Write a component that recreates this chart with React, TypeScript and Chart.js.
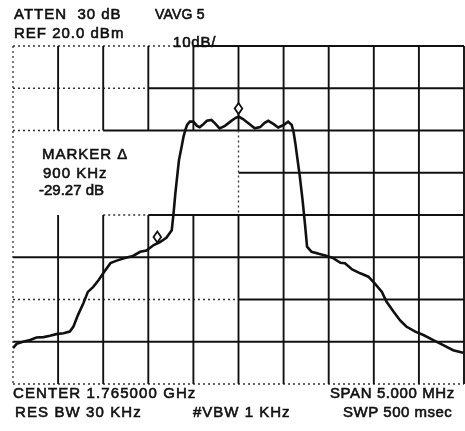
import { useEffect, useRef } from 'react';
import { Chart, registerables } from 'chart.js';

Chart.register(...registerables);

// Frequency offset from centre (MHz) and trace level (dBm)
const freqOffsetMHz = [
  -2.50, -2.46, -2.39, -2.31, -2.24, -2.16, -2.09, -2.02, -1.94, -1.87,
  -1.83, -1.78, -1.72, -1.67, -1.61, -1.55, -1.50, -1.42, -1.35, -1.26,
  -1.17, -1.09, -1.02, -0.94, -0.87, -0.80, -0.74, -0.72, -0.70, -0.68,
  -0.66, -0.63, -0.61, -0.59, -0.57, -0.54, -0.50, -0.46, -0.43, -0.39,
  -0.35, -0.30, -0.26, -0.21, -0.15, -0.09, -0.04, 0.00, 0.05, 0.11,
  0.18, 0.24, 0.29, 0.33, 0.39, 0.44, 0.50, 0.55, 0.59, 0.61,
  0.63, 0.65, 0.68, 0.71, 0.74, 0.76, 0.81, 0.89, 0.98, 1.05,
  1.13, 1.18, 1.26, 1.35, 1.44, 1.51, 1.59, 1.64, 1.72, 1.79,
  1.86, 1.96, 2.05, 2.16, 2.27, 2.38, 2.49,
];
const traceDbm = [
  -51.5, -50.5, -50.0, -49.6, -49.0, -48.9, -48.6, -48.2, -48.0, -47.6,
  -46.4, -43.7, -40.9, -38.2, -37.0, -35.4, -33.8, -31.4, -30.8, -30.2,
  -29.7, -28.7, -28.4, -27.1, -26.4, -25.4, -23.6, -19.6, -14.9, -10.9,
  -7.0, -3.8, -1.5, 0.1, 1.3, 2.1, 2.1, 1.1, 0.8, 1.5,
  2.3, 2.5, 1.7, 0.5, 1.1, 2.1, 2.9, 3.3, 2.7, 1.7,
  0.5, 0.8, 1.8, 2.3, 1.5, 0.7, 1.3, 2.1, 1.3, -0.3,
  -3.0, -6.2, -10.9, -16.4, -22.8, -27.5, -28.7, -29.2, -29.7, -30.2,
  -31.3, -31.4, -32.9, -33.8, -34.6, -36.2, -38.2, -40.5, -42.9, -44.9,
  -46.4, -47.6, -48.4, -49.6, -50.8, -52.0, -52.6,
];

const xGridMHz = [-2.5, -2, -1.5, -1, -0.5, 0, 0.5, 1, 1.5, 2, 2.5];
const yGridDbm = [20, 10, 0, -10, -20, -30, -40, -50, -60];

const markerFreqMHz = [0, -0.9];
const markerDbm = [3.3, -27.1];

const headerLines = ['ATTEN  30 dB', 'VAVG 5', 'REF 20.0 dBm', '10dB/'];
const markerLines = ['MARKER \u0394', '900 KHz', '-29.27 dB'];
const footerLines = ['CENTER 1.765000 GHz', 'SPAN 5.000 MHz', 'RES BW 30 KHz', '#VBW 1 KHz', 'SWP 500 msec'];

// grid segments: [index, from, to, dotted]
const hSegs: [number, number, number, boolean][] = [
  [0, 0, 4, true], [0, 4, 10, false],
  [1, 0, 3, true], [1, 3, 10, false],
  [2, 0, 2, true], [2, 2, 10, false],
  [3, 5, 10, false],
  [4, 2, 3, true], [4, 3, 10, false],
  [5, 0, 10, false],
  [6, 0, 5, true], [6, 5, 10, false],
  [7, 0, 10, false],
  [8, 0, 10, true],
];
const vSegs: [number, number, number, boolean][] = [
  [0, 0, 8, true],
  [1, 0, 2, false], [1, 4, 8, false],
  [2, 0, 2, false], [2, 4, 8, false],
  [3, 0, 2, false], [3, 4, 8, false],
  [4, 0, 2, false], [4, 4, 8, false],
  [5, 0, 2, false], [5, 2, 4, true], [5, 4, 8, false],
  [6, 0, 8, false], [7, 0, 8, false], [8, 0, 8, false], [9, 0, 8, false], [10, 0, 8, false],
];

const gridPlugin = {
  id: 'saGrid',
  beforeDatasetsDraw(chart: any) {
    const { ctx, scales } = chart;
    const xp = (i: number) => scales.x.getPixelForValue(xGridMHz[i]);
    const yp = (j: number) => scales.y.getPixelForValue(yGridDbm[j]);
    ctx.save();
    const stroke = (x1: number, y1: number, x2: number, y2: number, dotted: boolean) => {
      ctx.beginPath();
      if (dotted) {
        ctx.setLineDash([2, 3]);
        ctx.lineWidth = 1.3;
        ctx.strokeStyle = '#333';
      } else {
        ctx.setLineDash([]);
        ctx.lineWidth = 1.9;
        ctx.strokeStyle = '#111';
      }
      ctx.moveTo(x1, y1);
      ctx.lineTo(x2, y2);
      ctx.stroke();
    };
    hSegs.forEach(([j, a, b, d]) => stroke(xp(a), yp(j), xp(b), yp(j), d));
    vSegs.forEach(([i, a, b, d]) => stroke(xp(i), yp(a), xp(i), yp(b), d));
    ctx.restore();
  },
  afterDatasetsDraw(chart: any) {
    const { ctx, scales } = chart;
    ctx.save();
    // marker diamonds
    markerFreqMHz.forEach((f, k) => {
      const px = scales.x.getPixelForValue(f);
      const py = scales.y.getPixelForValue(markerDbm[k]) - 8;
      ctx.beginPath();
      ctx.moveTo(px, py - 5.5);
      ctx.lineTo(px + 3.8, py);
      ctx.lineTo(px, py + 5.5);
      ctx.lineTo(px - 3.8, py);
      ctx.closePath();
      ctx.fillStyle = '#fff';
      ctx.fill();
      ctx.lineWidth = 1.8;
      ctx.strokeStyle = '#111';
      ctx.stroke();
    });
    // texts
    ctx.fillStyle = '#111';
    ctx.strokeStyle = '#111';
    ctx.lineWidth = 0.6;
    ctx.textBaseline = 'alphabetic';
    ctx.textAlign = 'left';
    const put = (t: string, x: number, y: number, size: number, ls: number) => {
      ctx.font = `${size}px "Liberation Sans", Arial, sans-serif`;
      (ctx as any).letterSpacing = `${ls}px`;
      ctx.fillText(t, x, y);
      ctx.strokeText(t, x, y);
    };
    put(headerLines[0], 14, 19, 15, 1.0);
    put(headerLines[1], 155, 19, 14, 0.2);
    put(headerLines[2], 14, 38, 15, 1.0);
    put(headerLines[3], 173, 47, 15, 0.8);
    put(markerLines[0], 42, 159, 15, 1.0);
    put(markerLines[1], 43, 177.5, 15, 1.0);
    put(markerLines[2], 39, 195, 15, 0);
    put(footerLines[0], 13, 398, 15, 1.1);
    put(footerLines[1], 330, 398, 15, 0.6);
    put(footerLines[2], 15, 417, 15, 1.1);
    put(footerLines[3], 193, 417, 15, 1.0);
    put(footerLines[4], 343, 417, 15, 0.5);
    ctx.restore();
  },
};

export default function App() {
  const ref = useRef<HTMLCanvasElement | null>(null);
  useEffect(() => {
    document.body.style.margin = '0';
    document.body.style.background = '#fff';
    const canvas = ref.current!;
    const chart = new Chart(canvas, {
      type: 'scatter',
      data: {
        datasets: [
          {
            data: freqOffsetMHz.map((f, i) => ({ x: f, y: traceDbm[i] })),
            showLine: true,
            borderColor: '#111',
            borderWidth: 2.6,
            pointRadius: 0,
            tension: 0,
          },
        ],
      },
      options: {
        animation: false,
        responsive: false,
        maintainAspectRatio: false,
        layout: { padding: { left: 13, right: 1, top: 46, bottom: 47 } },
        plugins: { legend: { display: false }, tooltip: { enabled: false } },
        scales: {
          x: { type: 'linear', min: -2.5, max: 2.5, display: false },
          y: { type: 'linear', min: -60, max: 20, display: false },
        },
      },
      plugins: [gridPlugin],
    });
    return () => chart.destroy();
  }, []);
  return (
    <div style={{ width: 465, height: 431, background: '#fff' }}>
      <canvas ref={ref} width={465} height={431} style={{ display: 'block' }} />
    </div>
  );
}
